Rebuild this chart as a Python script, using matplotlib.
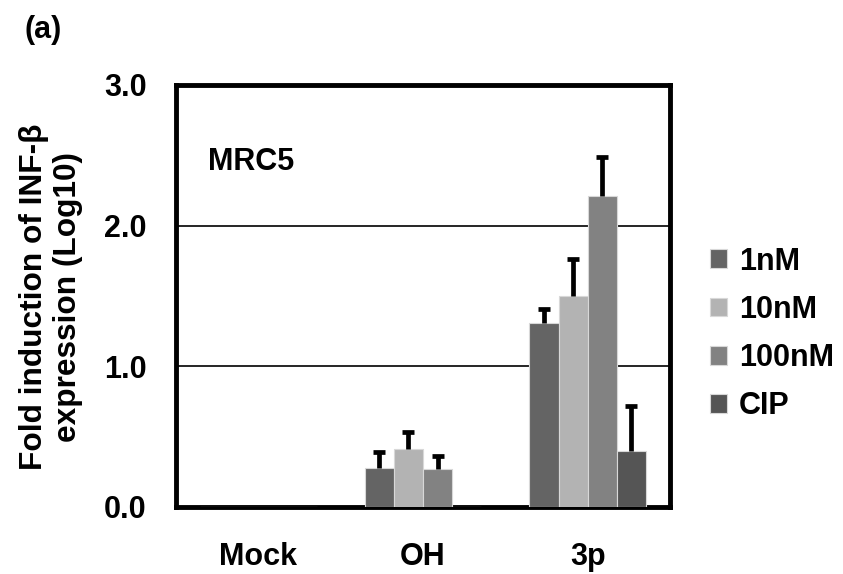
import matplotlib
matplotlib.use("Agg")
import matplotlib.pyplot as plt
import numpy as np

plt.rcParams['font.family'] = ['Liberation Sans', 'DejaVu Sans']
plt.rcParams['font.weight'] = 'bold'

groups = ["Mock", "OH", "3p"]
series = ["1nM", "10nM", "100nM", "CIP"]
values = {
    "1nM":   [0.0, 0.28, 1.31],
    "10nM":  [0.0, 0.41, 1.50],
    "100nM": [0.0, 0.27, 2.21],
    "CIP":   [0.0, 0.0, 0.40],
}
errors = {
    "1nM":   [0.0, 0.11, 0.10],
    "10nM":  [0.0, 0.12, 0.26],
    "100nM": [0.0, 0.09, 0.28],
    "CIP":   [0.0, 0.0, 0.32],
}
colors = {"1nM": "#646464", "10nM": "#b3b3b3", "100nM": "#828282", "CIP": "#555555"}
yticks = [0.0, 1.0, 2.0, 3.0]
ytick_labels = ["0.0", "1.0", "2.0", "3.0"]

fig = plt.figure(figsize=(8.43, 5.74), dpi=100)
ax = fig.add_axes([176/843, 1-507/574, (670-176)/843, (507-85)/574])

x = np.arange(len(groups))
w = 0.177
fs = 22
for i, s in enumerate(series):
    pos = x + (i - 1.5) * w
    ax.bar(pos, values[s], width=w, color=colors[s], edgecolor="#d8d8d8",
           linewidth=0.8, zorder=3, label=s)
    err = np.array(errors[s])
    mask = err > 0
    if mask.any():
        _, caps, _ = ax.errorbar(pos[mask], np.array(values[s])[mask],
                                 yerr=[np.zeros(mask.sum()), err[mask]],
                                 fmt="none", ecolor="black", elinewidth=3.4,
                                 capsize=4.5, capthick=3.4, zorder=4)
        caps[0].set_visible(False)

ax.set_xlim(-0.5, 2.5)
ax.set_ylim(0, 3.0)
ax.set_yticks(yticks)
ax.set_yticklabels(ytick_labels, fontsize=fs, fontweight="bold")
ax.set_xticks(x)
ax.set_xticklabels(groups, fontsize=fs, fontweight="bold")
ax.tick_params(axis="y", length=0, pad=21)
ax.tick_params(axis="x", length=0, pad=25)
for yv in [1.0, 2.0]:
    ax.axhline(yv, color="black", linewidth=1.2, zorder=1)
for sp in ax.spines.values():
    sp.set_linewidth(3.5)
    sp.set_color("black")

ax.text(0.065, 0.817, "MRC5", transform=ax.transAxes, fontsize=fs,
        fontweight="bold", ha="left", va="center")

fig.text(51/843, 1-297/574, "Fold induction of INF-β\nexpression (Log10)",
         rotation=90, ha="center", va="center", fontsize=22.8,
         fontweight="bold", linespacing=1.2)
fig.text(25/843, 1-30/574, "(a)", fontsize=fs, fontweight="bold",
         ha="left", va="center")

handles, labels = ax.get_legend_handles_labels()
leg = fig.legend(handles, labels, loc="center left",
                 bbox_to_anchor=(710/843, 1-334/574), frameon=False,
                 prop={"size": fs, "weight": "bold"}, handlelength=0.55,
                 handleheight=0.55, handletextpad=0.4, labelspacing=0.6,
                 borderaxespad=0, borderpad=0)

fig.savefig("out.png", dpi=100)
